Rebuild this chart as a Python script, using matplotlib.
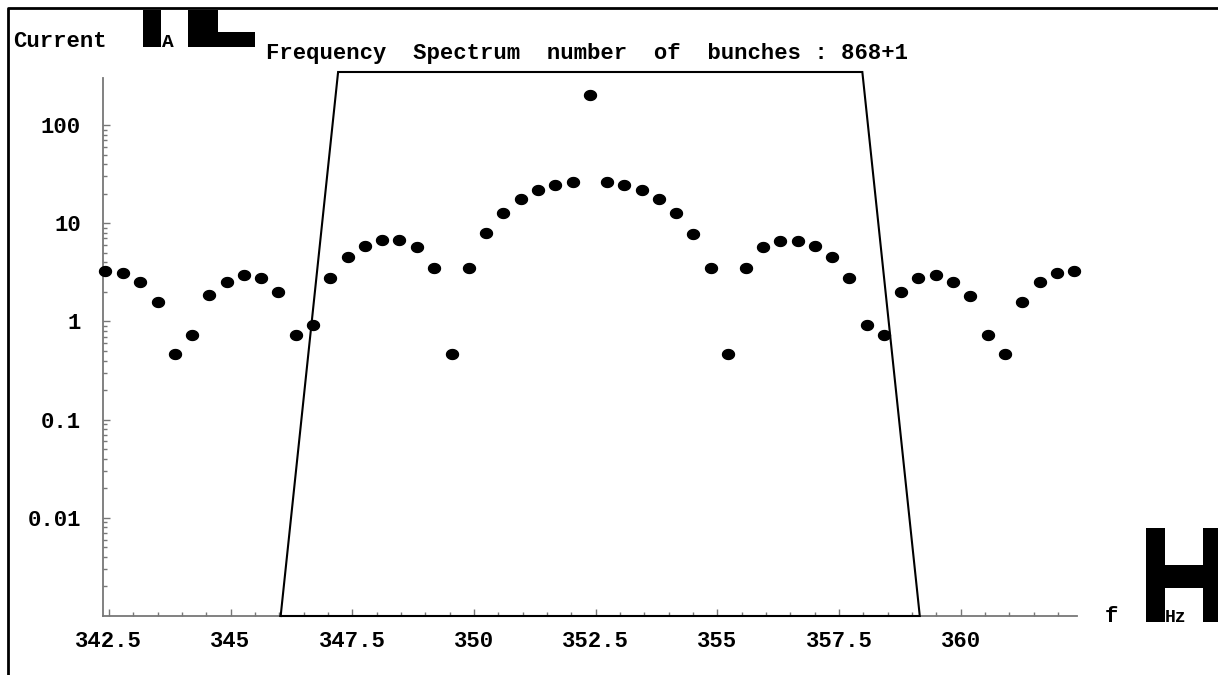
import numpy as np
import matplotlib
matplotlib.use("Agg")
import matplotlib.pyplot as plt
from matplotlib.path import Path
from matplotlib.patches import Rectangle
from matplotlib.lines import Line2D

# Du lieu doc tu hinh
freq = [342.43, 342.79, 343.14, 343.50, 343.85, 344.21, 344.56, 344.92,
        345.27, 345.63, 345.98, 346.34, 346.69, 347.05, 347.41, 347.76,
        348.12, 348.47, 348.83, 349.18, 349.54, 349.89, 350.25, 350.60,
        350.96, 351.32, 351.67, 352.03, 352.38, 352.74, 353.09, 353.45,
        353.80, 354.16, 354.51, 354.87, 355.22, 355.58, 355.94, 356.29,
        356.65, 357.00, 357.36, 357.71, 358.07, 358.42, 358.78, 359.13,
        359.49, 359.84, 360.20, 360.56, 360.91, 361.27, 361.62, 361.98,
        362.33]

current = [3.23, 3.11, 2.53, 1.56, 0.466, 0.727, 1.84, 2.53,
           2.99, 2.76, 1.99, 0.727, 0.925, 2.76, 4.48, 5.93,
           6.73, 6.73, 5.71, 3.52, 0.466, 3.52, 7.93, 12.8,
           17.8, 21.7, 24.6, 26.6, 200.0, 26.6, 24.4, 21.7,
           17.7, 12.8, 7.86, 3.49, 0.466, 3.49, 5.71, 6.67,
           6.67, 5.93, 4.48, 2.74, 0.919, 0.72, 1.99, 2.74,
           2.96, 2.53, 1.83, 0.72, 0.466, 1.56, 2.53, 3.11,
           3.23]

# cua so loc (hinh thang)
window_f = [346.03, 347.21, 357.98, 359.16, 346.03]
window_i = [0.001, 347.0, 347.0, 0.001, 0.001]

x_ticks = [342.5, 345, 347.5, 350, 352.5, 355, 357.5, 360]
x_labels = ["342.5", "345", "347.5", "350", "352.5", "355", "357.5", "360"]
y_ticks = [0.01, 0.1, 1, 10, 100]
y_labels = ["0.01", "0.1", "1", "10", "100"]

title = "Frequency  Spectrum  number  of  bunches : 868+1"

W, H = 1218, 675
FONT = "Liberation Mono"


def px(x, y):
    return x / W, 1 - y / H


fig = plt.figure(figsize=(W / 100, H / 100), dpi=100)
ax = fig.add_axes([103 / W, 1 - 616 / H, (1077 - 103) / W, (616 - 72) / H])

# marker hinh elip
t = np.linspace(0, 2 * np.pi, 60)
ellipse = Path(np.c_[np.cos(t), 0.83 * np.sin(t)], closed=True)

ax.plot(window_f, window_i, color="black", lw=1.5, clip_on=False,
        solid_joinstyle="miter", zorder=3)
ax.plot(freq, current, linestyle="none", marker=ellipse, markersize=8.6,
        color="black", clip_on=False, zorder=4)

ax.set_yscale("log")
ax.set_xlim(342.38, 362.39)
ax.set_ylim(0.001, 347)

ax.set_xticks(x_ticks)
ax.set_xticklabels(x_labels)
ax.set_xticks(np.arange(342.5, 362.4, 0.5), minor=True)
ax.set_yticks(y_ticks)
ax.set_yticklabels(y_labels)
ax.set_yticks([m * 10.0 ** e for e in range(-3, 2) for m in range(2, 10)],
              minor=True)

for lab in ax.get_xticklabels() + ax.get_yticklabels():
    lab.set_fontfamily(FONT)
    lab.set_fontweight("bold")
    lab.set_fontsize(16)

axis_gray = "#777777"
ax.tick_params(axis="x", which="major", direction="in", length=5,
               width=1, color=axis_gray, pad=11)
ax.tick_params(axis="x", which="minor", direction="in", length=3,
               width=1, color=axis_gray)
ax.tick_params(axis="y", which="major", direction="in", length=5,
               width=1, color=axis_gray, pad=16)
ax.tick_params(axis="y", which="minor", direction="in", length=3,
               width=1, color=axis_gray)

ax.spines["top"].set_visible(False)
ax.spines["right"].set_visible(False)
ax.spines["left"].set_color(axis_gray)
ax.spines["bottom"].set_color(axis_gray)
ax.spines["left"].set_linewidth(1.3)
ax.spines["bottom"].set_linewidth(1.3)
ax.spines["left"].set_bounds(0.001, 300)
ax.patch.set_visible(False)

# khung ngoai
fig.add_artist(Line2D([8 / W, 8 / W, 1], [0, 1 - 8 / H, 1 - 8 / H],
                      color="black", lw=2, transform=fig.transFigure))

# chu
fig.text(*px(13, 47), "Current", family=FONT, weight="bold", fontsize=16,
         va="baseline", ha="left")
fig.text(*px(162, 47), "A", family=FONT, weight="bold", fontsize=14,
         va="baseline", ha="left")
fig.text(*px(266, 59.5), title, family=FONT, weight="bold", fontsize=16,
         va="baseline", ha="left")
fig.text(*px(1105, 622), "f", family=FONT, weight="bold", fontsize=16,
         va="baseline", ha="left")
fig.text(*px(1165, 622), "Hz", family=FONT, weight="bold", fontsize=13,
         va="baseline", ha="left", zorder=5)

# cac khoi den (ngoac vuong bi loi font)
blocks = [
    (143, 10, 161, 47),
    (188, 10, 218, 47),
    (218, 32, 255, 47),
    (1146, 528, 1165, 622),
    (1165, 565, 1203, 588),
    (1203, 528, 1218, 622),
]
for x0, y0, x1, y1 in blocks:
    fig.add_artist(Rectangle((x0 / W, 1 - y1 / H), (x1 - x0) / W,
                             (y1 - y0) / H, transform=fig.transFigure,
                             facecolor="black", edgecolor="none"))

fig.savefig("out.png", dpi=100)
